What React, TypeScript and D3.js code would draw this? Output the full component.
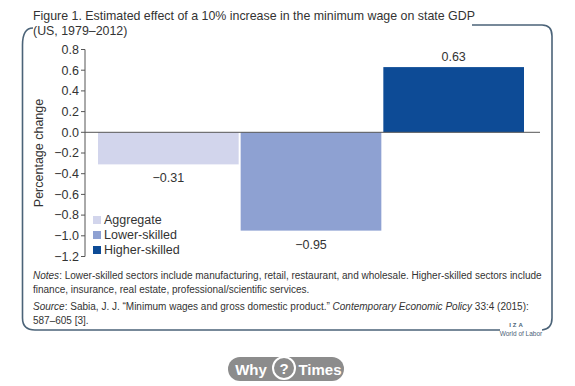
import * as d3 from "d3";

const categories = ["Aggregate", "Lower-skilled", "Higher-skilled"];
const values = [-0.31, -0.95, 0.63];
const valueLabels = ["\u22120.31", "\u22120.95", "0.63"];
const colors = ["#d2d5ec", "#8ea1d2", "#0d4b96"];
const yTicks = [0.8, 0.6, 0.4, 0.2, 0.0, -0.2, -0.4, -0.6, -0.8, -1.0, -1.2];

const titleLines = [
  "Figure 1. Estimated effect of a 10% increase in the minimum wage on state GDP",
  "(US, 1979\u20132012)",
];

const font = "'Liberation Sans', Arial, sans-serif";
const textColor = "#333";
const frameColor = "#4b6378";

function fmtTick(v: number) {
  const s = d3.format(".1f")(Math.abs(v));
  return v < -1e-9 ? "\u2212" + s : s;
}

export default function App() {
  const width = 575;
  const height = 386;

  const x = d3.scaleBand<string>().domain(categories).range([98, 524]).paddingInner(0.014);
  const y = d3.scaleLinear().domain([-1.2, 0.8]).range([256.5, 49.5]);
  const axisX = 85;

  // rounded frame, open at top (title) and bottom right (logo)
  const framePath = [
    "M", 33, 28,
    "Q", 22.5, 28, 22.5, 45,
    "L", 22.5, 318,
    "Q", 22.5, 330, 35, 330,
    "L", 500, 330,
  ].join(" ");
  const framePathRight = [
    "M", 472, 25,
    "L", 542, 25,
    "Q", 552, 25, 552, 36,
    "L", 552, 318,
    "Q", 552, 329, 542, 330,
  ].join(" ");

  return (
    <svg
      width={width}
      height={height}
      style={{ position: "absolute", left: 0, top: 0, background: "#fff" }}
      fontFamily={font}
    >
      <rect width={width} height={height} fill="#fff" />
      <path d={framePath} fill="none" stroke={frameColor} strokeWidth={1.6} />
      <path d={framePathRight} fill="none" stroke={frameColor} strokeWidth={1.6} />

      {titleLines.map((t, i) => (
        <text key={i} x={33} y={20 + i * 15} fontSize={12.4} fill={textColor}>
          {t}
        </text>
      ))}

      {/* bars */}
      {categories.map((c, i) => {
        const v = values[i];
        const y0 = y(0);
        const y1 = y(v);
        return (
          <rect
            key={c}
            x={x(c)}
            y={Math.min(y0, y1)}
            width={x.bandwidth()}
            height={Math.abs(y1 - y0)}
            fill={colors[i]}
          />
        );
      })}

      <line x1={axisX} x2={540} y1={y(0)} y2={y(0)} stroke="#555" strokeWidth={1} />

      {/* y axis */}
      <line x1={axisX} x2={axisX} y1={y(0.8)} y2={y(-1.2)} stroke="#555" strokeWidth={1} />
      {yTicks.map((t) => (
        <g key={t}>
          <line x1={axisX - 4} x2={axisX} y1={y(t)} y2={y(t)} stroke="#555" />
          <text
            x={axisX - 6}
            y={y(t)}
            dy="0.35em"
            textAnchor="end"
            fontSize={12.5}
            fill={textColor}
          >
            {fmtTick(t)}
          </text>
        </g>
      ))}
      <text
        transform={`translate(43, ${y(-0.2)}) rotate(-90)`}
        textAnchor="middle"
        fontSize={12.5}
        fill={textColor}
      >
        Percentage change
      </text>

      {/* value labels */}
      {categories.map((c, i) => {
        const v = values[i];
        const cx = (x(c) ?? 0) + x.bandwidth() / 2;
        const ly = v < 0 ? y(v) + 18 : y(v) - 6;
        return (
          <text key={c} x={cx} y={ly} textAnchor="middle" fontSize={12.5} fill={textColor}>
            {valueLabels[i]}
          </text>
        );
      })}

      {/* legend */}
      {categories.map((c, i) => (
        <g key={c} transform={`translate(93, ${216 + i * 15})`}>
          <rect x={0} y={0} width={8} height={8} fill={colors[i]} />
          <text x={11} y={4} dy="0.35em" fontSize={12.5} fill={textColor}>
            {c}
          </text>
        </g>
      ))}

      {/* notes */}
      <g fontSize={10} fill={textColor}>
        <text x={33} y={279}>
          <tspan fontStyle="italic">Notes</tspan>
          : Lower-skilled sectors include manufacturing, retail, restaurant, and wholesale. Higher-skilled sectors include
        </text>
        <text x={33} y={293}>
          finance, insurance, real estate, professional/scientific services.
        </text>
        <text x={33} y={310}>
          <tspan fontStyle="italic">Source</tspan>
          : Sabia, J. J. “Minimum wages and gross domestic product.”{" "}
          <tspan fontStyle="italic">Contemporary Economic Policy</tspan> 33:4 (2015):
        </text>
        <text x={33} y={324}>
          587–605 [3].
        </text>
      </g>

      {/* IZA logo */}
      <text x={517} y={327} fontSize={6} textAnchor="middle" fill="#4b6378" letterSpacing={2} fontWeight="bold">
        IZA
      </text>
      <text x={521} y={336} fontSize={6.5} textAnchor="middle" fill="#4b6378">
        World of Labor
      </text>

      {/* watermark */}
      <g>
        <rect x={228} y={357} width={116} height={24} rx={12} fill="#8c8c8c" />
        <text x={251} y={375} fontSize={15} fontWeight="bold" fill="#fff" textAnchor="middle">
          Why
        </text>
        <circle cx={284} cy={368} r={11} fill="#8c8c8c" stroke="#fff" strokeWidth={2} />
        <text x={284} y={373.5} fontSize={15} fontWeight="bold" fill="#fff" textAnchor="middle">
          ?
        </text>
        <text x={320} y={375} fontSize={15} fontWeight="bold" fill="#fff" textAnchor="middle">
          Times
        </text>
      </g>
    </svg>
  );
}
